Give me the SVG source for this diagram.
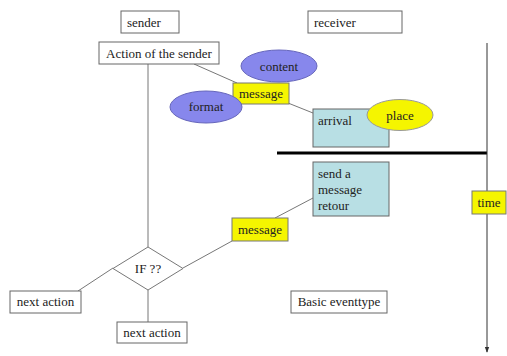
<svg xmlns="http://www.w3.org/2000/svg" width="507" height="356" viewBox="0 0 507 356" font-family="'Liberation Serif', 'DejaVu Serif', serif">
<defs>
<style>
.box{fill:#fff;stroke:#666;stroke-width:1}
.cyan{fill:#b8dfe4;stroke:#666;stroke-width:1}
.yel{fill:#f5f500;stroke:#777;stroke-width:1}
.ell{fill:#8787ec;stroke:#6666bb;stroke-width:1}
.yell{fill:#f5f500;stroke:#999;stroke-width:1}
.ln{stroke:#777;stroke-width:1;fill:none}
text{font-family:'Liberation Serif','DejaVu Serif',serif;font-size:13px;fill:#222}
.c{text-anchor:middle}
</style>
<marker id="arr" viewBox="0 0 8 8" refX="7" refY="4" markerWidth="6" markerHeight="6" orient="auto">
<path d="M0,1 L8,4 L0,7 z" fill="#333"/>
</marker>
</defs>
<rect width="507" height="356" fill="#fff"/>
<g id="connectors">
<line class="ln" x1="148" y1="64" x2="148" y2="247"/>
<line class="ln" x1="194" y1="64" x2="237" y2="83"/>
<line class="ln" x1="288" y1="103" x2="313" y2="113"/>
<line class="ln" x1="313" y1="198" x2="275" y2="218"/>
<line class="ln" x1="232" y1="241" x2="183" y2="268"/>
<line class="ln" x1="113" y1="268" x2="78" y2="291"/>
<line class="ln" x1="148" y1="290" x2="148" y2="322"/>
<line x1="277" y1="153" x2="487" y2="153" stroke="#000" stroke-width="3"/>
<line x1="487" y1="43" x2="487" y2="352" stroke="#333" stroke-width="1" marker-end="url(#arr)"/>
</g>
<g id="sender"><rect class="box" x="121" y="11" width="58" height="22"/><text x="127" y="27">sender</text></g>
<g id="receiver"><rect class="box" x="308" y="11" width="94" height="22"/><text x="314" y="27">receiver</text></g>
<g id="action"><rect class="box" x="99" y="42" width="120" height="22"/><text class="c" x="159" y="58">Action of the sender</text></g>
<g id="content"><ellipse class="ell" cx="279" cy="66" rx="38" ry="16"/><text class="c" x="279" y="71">content</text></g>
<g id="message1"><rect class="yel" x="233" y="83" width="56" height="21"/><text class="c" x="261" y="98">message</text></g>
<g id="format"><ellipse class="ell" cx="206" cy="107" rx="36" ry="16"/><text class="c" x="206" y="111">format</text></g>
<g id="arrival"><rect class="cyan" x="313" y="109" width="76" height="38"/><text x="318" y="125">arrival</text></g>
<g id="place"><ellipse class="yell" cx="400" cy="115" rx="33" ry="15.5"/><text class="c" x="400" y="120">place</text></g>
<g id="send"><rect class="cyan" x="313" y="162" width="76" height="54"/><text x="318" y="178">send a</text><text x="318" y="194">message</text><text x="318" y="210">retour</text></g>
<g id="time"><rect class="yel" x="472" y="191" width="34" height="23"/><text class="c" x="489" y="207">time</text></g>
<g id="message2"><rect class="yel" x="232" y="218" width="56" height="23"/><text class="c" x="260" y="234">message</text></g>
<g id="if"><polygon points="148,247 183,268.5 148,290 113,268.5" fill="#fff" stroke="#777"/><text class="c" x="148" y="273">IF ??</text></g>
<g id="next1"><rect class="box" x="10" y="291" width="71" height="22"/><text class="c" x="45.5" y="306">next action</text></g>
<g id="next2"><rect class="box" x="117" y="322" width="70" height="21"/><text class="c" x="152" y="337">next action</text></g>
<g id="basic"><rect class="box" x="291" y="291" width="96" height="22"/><text class="c" x="339" y="306">Basic eventtype</text></g>
</svg>
